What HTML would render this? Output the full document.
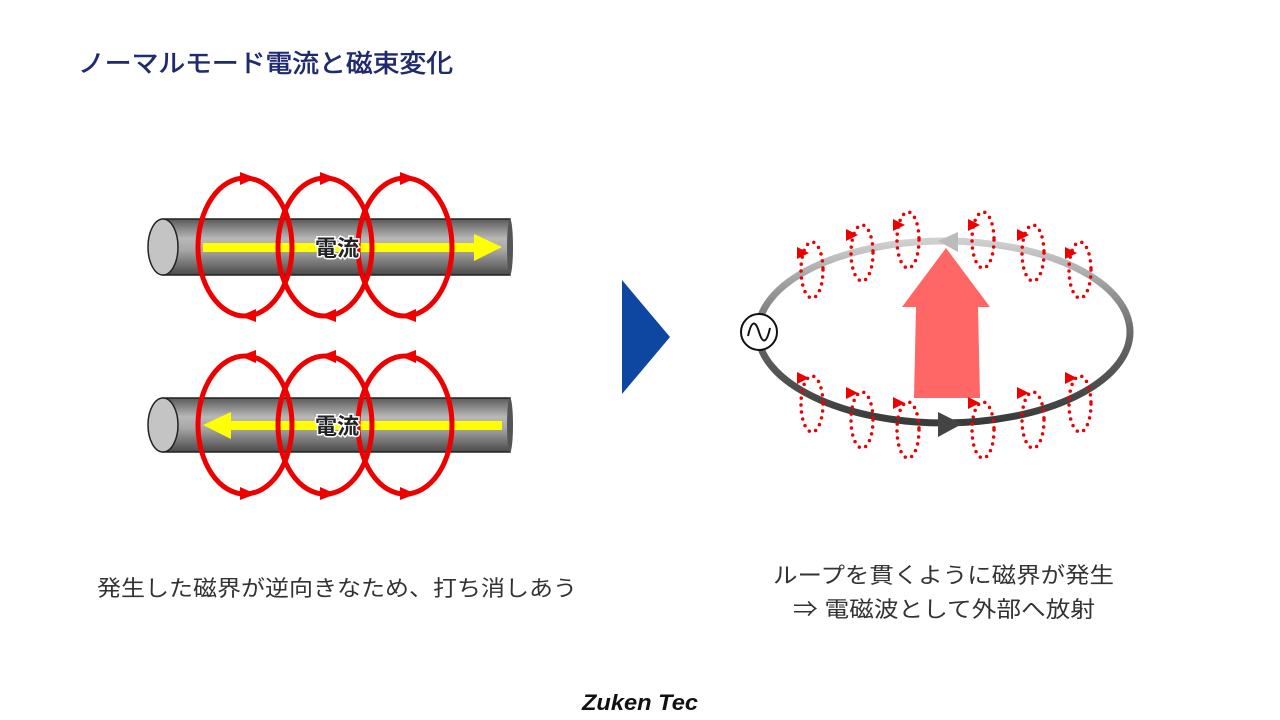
<!DOCTYPE html>
<html><head><meta charset="utf-8"><style>
html,body{margin:0;padding:0;background:#fff;}
svg{display:block;}
text{font-family:"Liberation Sans","Noto Sans CJK JP",sans-serif;}
</style></head><body>
<svg width="1280" height="720" viewBox="0 0 1280 720" xmlns="http://www.w3.org/2000/svg">
<defs>
<linearGradient id="cyl" x1="0" y1="0" x2="0" y2="1">
<stop offset="0" stop-color="#5a5a5a"/><stop offset="0.35" stop-color="#b8b8b8"/><stop offset="0.55" stop-color="#a8a8a8"/><stop offset="1" stop-color="#4a4a4a"/>
</linearGradient>
<linearGradient id="loop" x1="0" y1="0" x2="0" y2="1">
<stop offset="0" stop-color="#d0d0d0"/><stop offset="0.5" stop-color="#6a6a6a"/><stop offset="1" stop-color="#3a3a3a"/>
</linearGradient>
</defs>
<text x="78" y="72" font-size="25" fill="#1f2a70" stroke="#1f2a70" stroke-width="0.6" textLength="375" lengthAdjust="spacingAndGlyphs">ノーマルモード電流と磁束変化</text>

<g>
<rect x="163" y="219" width="347" height="56" fill="url(#cyl)" stroke="#222" stroke-width="1.5"/>
<ellipse cx="510" cy="247" rx="3" ry="28" fill="#555"/>
<ellipse cx="163" cy="247" rx="15" ry="28" fill="#c4c4c4" stroke="#222" stroke-width="1.5"/>
<rect x="203" y="243" width="275" height="9" fill="#ffff00"/>
<polygon points="474,234 502,247 474,261" fill="#ffff00"/>
<g fill="none" stroke="#ee0000" stroke-width="5">
<ellipse cx="245" cy="247" rx="47" ry="69"/><ellipse cx="325" cy="247" rx="47" ry="69"/><ellipse cx="405" cy="247" rx="47" ry="69"/>
</g>
<g fill="#ee0000">
<polygon points="240,172 256,178 240,185"/><polygon points="320,172 336,178 320,185"/><polygon points="400,172 416,178 400,185"/>
<polygon points="256,309 240,316 256,322"/><polygon points="336,309 320,316 336,322"/><polygon points="416,309 400,316 416,322"/>
</g>
<text x="337" y="256" font-size="22" font-weight="bold" fill="#222" text-anchor="middle" stroke="#fff" stroke-width="3" paint-order="stroke">電流</text>
</g>

<g>
<rect x="163" y="398" width="347" height="54" fill="url(#cyl)" stroke="#222" stroke-width="1.5"/>
<ellipse cx="510" cy="425" rx="3" ry="27" fill="#555"/>
<ellipse cx="163" cy="425" rx="15" ry="27" fill="#c4c4c4" stroke="#222" stroke-width="1.5"/>
<rect x="228" y="421" width="274" height="9" fill="#ffff00"/>
<polygon points="231,412 203,425 231,439" fill="#ffff00"/>
<g fill="none" stroke="#ee0000" stroke-width="5">
<ellipse cx="245" cy="425" rx="47" ry="69"/><ellipse cx="325" cy="425" rx="47" ry="69"/><ellipse cx="405" cy="425" rx="47" ry="69"/>
</g>
<g fill="#ee0000">
<polygon points="256,350 240,356 256,363"/><polygon points="336,350 320,356 336,363"/><polygon points="416,350 400,356 416,363"/>
<polygon points="240,487 256,494 240,500"/><polygon points="320,487 336,494 320,500"/><polygon points="400,487 416,494 400,500"/>
</g>
<text x="337" y="434" font-size="22" font-weight="bold" fill="#222" text-anchor="middle" stroke="#fff" stroke-width="3" paint-order="stroke">電流</text>
</g>

<polygon points="622,280 670,337 622,394" fill="#0d47a1"/>

<ellipse cx="944" cy="332" rx="186" ry="91" fill="none" stroke="url(#loop)" stroke-width="7"/>
<polygon points="958,232 938,241 958,252" fill="#bbb"/>
<polygon points="938,412 962,424 938,437" fill="#444"/>
<circle cx="759" cy="332" r="18" fill="#fff" stroke="#111" stroke-width="2"/>
<path d="M748,336 C752,318 756,322 759,332 C762,342 766,346 770,328" fill="none" stroke="#111" stroke-width="2"/>

<polygon points="946,248 990,307 978,307 980,398 914,398 916,307 902,307" fill="#ff5555" opacity="0.9"/>

<g fill="none" stroke="#ee0000" stroke-width="3.5" stroke-dasharray="0 7" stroke-linecap="round">
<ellipse cx="812" cy="270" rx="11" ry="28"/><ellipse cx="862" cy="253" rx="11" ry="28"/><ellipse cx="908" cy="240" rx="11" ry="28"/>
<ellipse cx="983" cy="240" rx="11" ry="28"/><ellipse cx="1033" cy="253" rx="11" ry="28"/><ellipse cx="1080" cy="270" rx="11" ry="28"/>
<ellipse cx="812" cy="404" rx="11" ry="28"/><ellipse cx="862" cy="420" rx="11" ry="28"/><ellipse cx="908" cy="430" rx="11" ry="28"/>
<ellipse cx="983" cy="430" rx="11" ry="28"/><ellipse cx="1033" cy="420" rx="11" ry="28"/><ellipse cx="1080" cy="404" rx="11" ry="28"/>
</g>
<g fill="#ee0000">
<polygon points="797,247 809,253 797,259"/><polygon points="846,229 858,235 846,241"/><polygon points="893,219 905,225 893,231"/>
<polygon points="968,219 980,225 968,231"/><polygon points="1017,229 1029,235 1017,241"/><polygon points="1065,247 1077,253 1065,259"/>
<polygon points="797,372 809,378 797,384"/><polygon points="846,387 858,393 846,399"/><polygon points="893,397 905,403 893,409"/>
<polygon points="968,397 980,403 968,409"/><polygon points="1017,387 1029,393 1017,399"/><polygon points="1065,372 1077,378 1065,384"/>
</g>

<text x="97" y="596" font-size="22" fill="#333" textLength="480" lengthAdjust="spacingAndGlyphs">発生した磁界が逆向きなため、打ち消しあう</text>
<text x="773" y="583" font-size="22" fill="#333" textLength="341" lengthAdjust="spacingAndGlyphs">ループを貫くように磁界が発生</text>
<text x="793" y="617" font-size="22" fill="#333" textLength="302" lengthAdjust="spacingAndGlyphs">⇒ 電磁波として外部へ放射</text>

<text x="640" y="710" font-size="22" font-weight="bold" font-style="italic" fill="#111" text-anchor="middle" textLength="116" lengthAdjust="spacingAndGlyphs">Zuken Tec</text>
</svg>
</body></html>
